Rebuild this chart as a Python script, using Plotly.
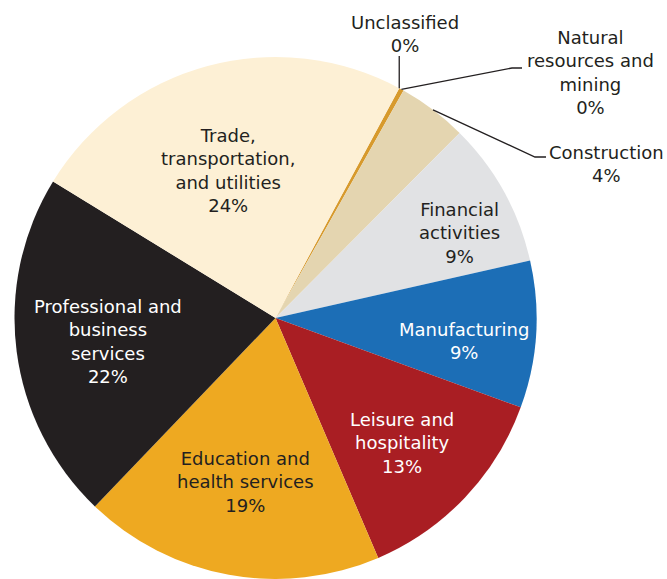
import math
import plotly.graph_objects as go

# Employment share by industry (percent), clockwise from the top
industries = [
    "Unclassified",
    "Natural resources and mining",
    "Construction",
    "Financial activities",
    "Manufacturing",
    "Leisure and hospitality",
    "Education and health services",
    "Professional and business services",
    "Trade, transportation, and utilities",
]
shares = [0.0, 0.3, 4.3, 9.0, 9.1, 13.0, 18.6, 21.6, 24.1]

# Wrapped label text for each industry
label_lines = [
    ["Unclassified"],
    ["Natural", "resources and", "mining"],
    ["Construction"],
    ["Financial", "activities"],
    ["Manufacturing"],
    ["Leisure and", "hospitality"],
    ["Education and", "health services"],
    ["Professional and", "business", "services"],
    ["Trade,", "transportation,", "and utilities"],
]

colors = ["#D79A2D", "#D79A2D", "#E4D5B0", "#E1E2E4", "#1C6EB6",
          "#A91E23", "#EEA921", "#231F20", "#FDF0D5"]
text_colors = ["#231F20", "#231F20", "#231F20", "#231F20", "#FFFFFF",
               "#FFFFFF", "#231F20", "#FFFFFF", "#231F20"]

W, H = 667, 579
START_ANGLE = 28.3  # degrees clockwise from 12 o'clock

# Pie geometry in pixels
top_px = 57
R = (H - top_px) / 2.0
cx, cy = 275.5, top_px + R

def px_to_paper(x, y):
    return x / W, 1 - y / H

x0, _ = px_to_paper(cx - R, 0)
x1, _ = px_to_paper(cx + R, 0)

fig = go.Figure(go.Pie(
    labels=industries,
    values=shares,
    sort=False,
    direction="clockwise",
    rotation=START_ANGLE,
    marker=dict(colors=colors, line=dict(width=0)),
    textinfo="none",
    hoverinfo="label+percent",
    showlegend=False,
    domain=dict(x=[x0, x1], y=[0, 1 - top_px / H]),
))

total = sum(shares)
angles = []
acc = START_ANGLE
for v in shares:
    a0 = acc
    acc += v / total * 360.0
    angles.append((a0, acc))

def point(angle_deg, r):
    t = math.radians(angle_deg)
    return cx + r * math.sin(t), cy - r * math.cos(t)

def pct_text(i):
    return "<br>".join(label_lines[i] + [f"{round(shares[i] / total * 100)}%"])

font = dict(family="DejaVu Sans, Verdana, sans-serif", size=18)

# Inside labels: radius fraction and angular nudge (degrees) from slice middle
inside_radius = {3: 0.778, 4: 0.728, 5: 0.681, 6: 0.639, 7: 0.648, 8: 0.595}
inside_shift = {3: 4.2, 4: 3.3, 5: 1.2, 6: 0.2, 7: -0.5, 8: -2.7}
for i, rf in inside_radius.items():
    a0, a1 = angles[i]
    mid = (a0 + a1) / 2 + inside_shift[i]
    px, py = point(mid, rf * R)
    xp, yp = px_to_paper(px, py)
    fig.add_annotation(x=xp, y=yp, xref="paper", yref="paper", text=pct_text(i),
                       showarrow=False, xanchor="center", yanchor="middle",
                       font=dict(font, color=text_colors[i]), align="center")

# Outside labels with leader lines (elbow points and label centres in px)
outside = {
    0: dict(anchor_frac=0.0, elbow=None, end=(400, 56), label=(405, 34)),
    1: dict(anchor_frac=0.5, elbow=(512, 68), end=(522, 68), label=(590, 73)),
    2: dict(anchor_frac=0.5, elbow=(535, 157), end=(546, 157), label=(606, 164)),
}
line_style = dict(color="#231F20", width=1.3)
for i, o in outside.items():
    a0, a1 = angles[i]
    ang = a0 + (a1 - a0) * o["anchor_frac"]
    sx, sy = point(ang, R)
    if i == 0:
        pts = [(sx, sy), (sx, o["end"][1])]
    else:
        pts = [(sx, sy), o["elbow"], o["end"]]
    path = "M " + " L ".join(f"{px_to_paper(x, y)[0]},{px_to_paper(x, y)[1]}" for x, y in pts)
    fig.add_shape(type="path", path=path, xref="paper", yref="paper", line=line_style)
    lx, ly = px_to_paper(*o["label"])
    fig.add_annotation(x=lx, y=ly, xref="paper", yref="paper", text=pct_text(i),
                       showarrow=False, xanchor="center", yanchor="middle",
                       font=dict(font, color="#231F20"), align="center")

fig.update_layout(
    width=W, height=H,
    margin=dict(l=0, r=0, t=0, b=0),
    paper_bgcolor="white",
    plot_bgcolor="white",
)

fig.write_html("out.html")
